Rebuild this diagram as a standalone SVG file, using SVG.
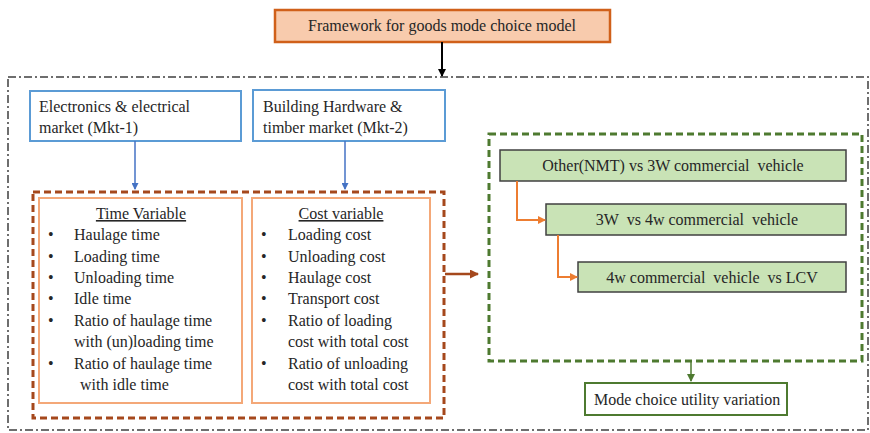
<svg xmlns="http://www.w3.org/2000/svg" width="870" height="433" viewBox="0 0 870 433">
<style>
text{font-family:"Liberation Serif","Times New Roman",serif;font-size:16px;fill:#262626;white-space:pre}
.c{text-anchor:middle}
.blue{fill:#fff;stroke:#5B9BD5;stroke-width:2}
.var{fill:#fff;stroke:#F4A878;stroke-width:2}
.grn{fill:#C9E3B6;stroke:#404040;stroke-width:1.5}
.bl{stroke:#4472C4;stroke-width:1.5;fill:none}
.or{stroke:#ED7D31;stroke-width:2;fill:none}
</style>
<defs>
<marker id="aBlk" markerWidth="8" markerHeight="8" refX="7" refY="4" orient="auto" markerUnits="userSpaceOnUse"><path d="M0,0 L8,4 L0,8 z" fill="#000"/></marker>
<marker id="aBlu" markerWidth="7" markerHeight="7" refX="6" refY="3.5" orient="auto" markerUnits="userSpaceOnUse"><path d="M0,0 L7,3.5 L0,7 z" fill="#4472C4"/></marker>
<marker id="aOr" markerWidth="8" markerHeight="8" refX="7" refY="4" orient="auto" markerUnits="userSpaceOnUse"><path d="M0,0 L8,4 L0,8 z" fill="#ED7D31"/></marker>
<marker id="aBr" markerWidth="9" markerHeight="9" refX="8" refY="4.5" orient="auto" markerUnits="userSpaceOnUse"><path d="M0,0 L9,4.5 L0,9 z" fill="#A5481C"/></marker>
<marker id="aGr" markerWidth="8" markerHeight="8" refX="7" refY="4" orient="auto" markerUnits="userSpaceOnUse"><path d="M0,0 L8,4 L0,8 z" fill="#4E7A30"/></marker>
</defs>

<g id="frame">
<rect x="8" y="77" width="860" height="353" fill="none" stroke="#6E6E6E" stroke-width="2" stroke-dasharray="8,3,2,3"/>
</g>

<g id="title">
<rect x="275" y="10" width="335" height="32" fill="#F8CBAD" stroke="#D0601A" stroke-width="2.5"/>
<text class="c" x="442" y="31">Framework for goods mode choice model</text>
</g>

<g id="mkt1">
<rect class="blue" x="30" y="91" width="211" height="50"/>
<text x="39" y="112">Electronics &amp; electrical</text>
<text x="39" y="133">market (Mkt-1)</text>
</g>
<g id="mkt2">
<rect class="blue" x="253" y="90" width="192" height="51"/>
<text x="263" y="112">Building Hardware &amp;</text>
<text x="263" y="133">timber market (Mkt-2)</text>
</g>

<g id="variables">
<rect x="33" y="192" width="411" height="226" fill="none" stroke="#A5481C" stroke-width="3" stroke-dasharray="7,4"/>
</g>

<g id="time">
<rect class="var" x="39" y="198" width="203" height="205"/>
<text class="c" x="141" y="219" text-decoration="underline">Time Variable</text>
<text x="48" y="240">•</text><text x="74" y="240">Haulage time</text>
<text x="48" y="262">•</text><text x="74" y="262">Loading time</text>
<text x="48" y="283">•</text><text x="74" y="283">Unloading time</text>
<text x="48" y="304">•</text><text x="74" y="304">Idle time</text>
<text x="48" y="326">•</text><text x="74" y="326">Ratio of haulage time</text>
<text x="74" y="347">with (un)loading time</text>
<text x="48" y="369">•</text><text x="74" y="369">Ratio of haulage time</text>
<text x="80" y="390">with idle time</text>
</g>

<g id="cost">
<rect class="var" x="252" y="198" width="178" height="205"/>
<text class="c" x="341" y="219" text-decoration="underline">Cost variable</text>
<text x="261" y="240">•</text><text x="288" y="240">Loading cost</text>
<text x="261" y="262">•</text><text x="288" y="262">Unloading cost</text>
<text x="261" y="283">•</text><text x="288" y="283">Haulage cost</text>
<text x="261" y="304">•</text><text x="288" y="304">Transport cost</text>
<text x="261" y="326">•</text><text x="288" y="326">Ratio of loading</text>
<text x="288" y="347">cost with total cost</text>
<text x="261" y="369">•</text><text x="288" y="369">Ratio of unloading</text>
<text x="288" y="390">cost with total cost</text>
</g>

<g id="choices">
<rect x="489" y="134" width="373" height="227" fill="none" stroke="#4E7A30" stroke-width="3" stroke-dasharray="7,4"/>
</g>
<g id="c1">
<rect class="grn" x="500" y="150" width="346" height="31"/>
<text class="c" x="673" y="171">Other(NMT) vs 3W commercial  vehicle</text>
</g>
<g id="c2">
<rect class="grn" x="546" y="204" width="300" height="31"/>
<text class="c" x="697" y="225">3W  vs 4w commercial  vehicle</text>
</g>
<g id="c3">
<rect class="grn" x="578" y="262" width="268" height="30"/>
<text class="c" x="712" y="283">4w commercial  vehicle  vs LCV</text>
</g>

<g id="result">
<rect x="585" y="383" width="202" height="32" fill="#fff" stroke="#4E7A30" stroke-width="2"/>
<text x="594" y="405">Mode choice utility variation</text>
</g>

<g id="connectors">
<line x1="442" y1="42" x2="442" y2="76" stroke="#000" stroke-width="2" marker-end="url(#aBlk)"/>
<line class="bl" x1="135" y1="141" x2="135" y2="189" marker-end="url(#aBlu)"/>
<line class="bl" x1="345" y1="141" x2="345" y2="189" marker-end="url(#aBlu)"/>
<line x1="445" y1="274" x2="478" y2="274" stroke="#A5481C" stroke-width="2.5" marker-end="url(#aBr)"/>
<polyline class="or" points="517,181 517,220 545,220" marker-end="url(#aOr)"/>
<polyline class="or" points="558,235 558,277 577,277" marker-end="url(#aOr)"/>
<line x1="691" y1="361" x2="691" y2="381" stroke="#4E7A30" stroke-width="1.5" marker-end="url(#aGr)"/>
</g>
</svg>
